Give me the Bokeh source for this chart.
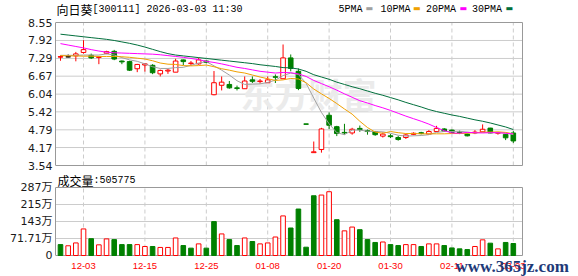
import numpy as np
from bokeh.plotting import figure
from bokeh.layouts import column
from bokeh.models import Range1d, FixedTicker, Label, ColumnDataSource
from bokeh.embed import file_html
from bokeh.resources import INLINE

# ---------------- data ----------------
dates = ["11-28", "12-01", "12-02", "12-03", "12-04", "12-05", "12-08", "12-09", "12-10", "12-11",
         "12-12", "12-15", "12-16", "12-17", "12-18", "12-19", "12-22", "12-23", "12-24", "12-25",
         "12-26", "12-29", "12-30", "12-31", "01-05", "01-06", "01-07", "01-08", "01-09", "01-12",
         "01-13", "01-14", "01-15", "01-16", "01-19", "01-20", "01-21", "01-22", "01-23", "01-26",
         "01-27", "01-28", "01-29", "01-30", "02-02", "02-03", "02-04", "02-05", "02-06", "02-09",
         "02-10", "02-11", "02-12", "02-13", "02-24", "02-25", "02-26", "02-27", "03-02", "03-03"]

open_ = [7.34, 7.35, 7.38, 7.50, 7.40, 7.33, 7.47, 7.54, 7.20, 7.18,
         6.93, 7.06, 7.05, 6.75, 6.85, 6.81, 7.24, 7.11, 7.10, 7.20,
         6.02, 6.35, 6.38, 6.26, 6.23, 6.54, 6.48, 6.44, 6.65, 6.58,
         7.31, 6.84, 4.99, 3.99, 4.10, 5.30, 4.90, 4.70, 4.68, 4.84,
         4.76, 4.73, 4.57, 4.58, 4.52, 4.52, 4.63, 4.69, 4.64, 4.73,
         4.82, 4.78, 4.71, 4.64, 4.68, 4.72, 4.85, 4.67, 4.63, 4.68]
high = [7.40, 7.43, 7.52, 7.93, 7.46, 7.35, 7.56, 7.59, 7.22, 7.21,
        7.10, 7.13, 7.09, 6.90, 6.92, 7.28, 7.25, 7.20, 7.32, 7.22,
        6.85, 6.66, 6.50, 6.34, 6.66, 6.66, 6.57, 6.66, 6.73, 7.78,
        7.43, 6.94, 4.99, 4.38, 4.86, 5.40, 4.93, 5.00, 4.86, 4.94,
        4.80, 4.75, 4.70, 4.64, 4.58, 4.64, 4.70, 4.72, 4.78, 4.93,
        4.85, 4.80, 4.76, 4.66, 4.78, 4.98, 4.86, 4.70, 4.64, 4.75]
low = [7.21, 7.33, 7.19, 7.46, 7.27, 7.09, 7.44, 7.23, 7.09, 6.85,
       6.81, 6.83, 6.74, 6.66, 6.75, 6.81, 7.05, 7.05, 7.07, 7.12,
       6.00, 6.17, 6.23, 6.17, 6.23, 6.43, 6.41, 6.43, 6.43, 6.58,
       6.84, 6.18, 4.99, 3.99, 3.99, 4.82, 4.57, 4.62, 4.62, 4.72,
       4.62, 4.58, 4.52, 4.50, 4.41, 4.47, 4.60, 4.63, 4.63, 4.72,
       4.72, 4.68, 4.64, 4.56, 4.64, 4.72, 4.67, 4.62, 4.43, 4.33]
close = [7.35, 7.35, 7.45, 7.60, 7.31, 7.34, 7.53, 7.27, 7.17, 6.88,
         7.08, 7.10, 6.79, 6.87, 6.88, 7.20, 7.18, 7.13, 7.24, 7.15,
         6.44, 6.46, 6.26, 6.24, 6.50, 6.49, 6.50, 6.54, 6.63, 7.31,
         6.94, 6.24, 4.99, 4.02, 4.82, 4.95, 4.66, 4.68, 4.81, 4.80,
         4.73, 4.62, 4.64, 4.55, 4.45, 4.61, 4.67, 4.66, 4.73, 4.84,
         4.74, 4.70, 4.69, 4.58, 4.71, 4.81, 4.68, 4.69, 4.51, 4.40]
prev_close_before = 7.38

# volume in 万
volume = [46, 41, 53, 112, 71, 45, 70, 67, 46, 46,
          46, 38, 38, 34, 34, 74, 42, 31, 49, 31,
          143, 91, 67, 42, 74, 59, 49, 53, 78, 167,
          116, 196, 35, 252, 255, 269, 151, 104, 120, 109,
          67, 55, 57, 46, 42, 46, 46, 38, 49, 49,
          42, 32, 28, 25, 38, 66, 52, 28, 55, 50.5775]

ma5 = [7.40, 7.40, 7.40, 7.41, 7.41, 7.41, 7.45, 7.41, 7.32, 7.24,
       7.19, 7.10, 7.00, 6.94, 6.94, 6.97, 6.98, 7.05, 7.13, 7.18,
       7.03, 6.88, 6.71, 6.51, 6.38, 6.39, 6.40, 6.45, 6.53, 6.69,
       6.78, 6.73, 6.42, 5.90, 5.40, 5.00, 4.69, 4.62, 4.78, 4.78,
       4.74, 4.73, 4.72, 4.67, 4.60, 4.57, 4.58, 4.59, 4.62, 4.70,
       4.73, 4.73, 4.74, 4.71, 4.68, 4.70, 4.69, 4.69, 4.68, 4.62]
ma10 = [7.39, 7.38, 7.38, 7.37, 7.37, 7.36, 7.36, 7.36, 7.35, 7.33,
        7.30, 7.27, 7.21, 7.13, 7.09, 7.08, 7.04, 7.03, 7.04, 7.06,
        7.00, 6.93, 6.88, 6.82, 6.78, 6.71, 6.64, 6.58, 6.52, 6.54,
        6.59, 6.57, 6.44, 6.22, 6.05, 5.89, 5.71, 5.52, 5.34, 5.09,
        4.87, 4.71, 4.67, 4.73, 4.69, 4.66, 4.66, 4.65, 4.65, 4.65,
        4.65, 4.66, 4.66, 4.67, 4.69, 4.71, 4.71, 4.72, 4.70, 4.65]
ma20 = [7.81, 7.76, 7.71, 7.66, 7.60, 7.55, 7.51, 7.49, 7.48, 7.47,
        7.46, 7.45, 7.44, 7.42, 7.39, 7.36, 7.33, 7.29, 7.25, 7.19,
        7.15, 7.10, 7.04, 6.98, 6.94, 6.89, 6.84, 6.81, 6.78, 6.80,
        6.79, 6.75, 6.66, 6.52, 6.41, 6.30, 6.18, 6.05, 5.93, 5.81,
        5.73, 5.64, 5.56, 5.47, 5.37, 5.27, 5.18, 5.09, 4.99, 4.87,
        4.76, 4.68, 4.67, 4.70, 4.69, 4.68, 4.69, 4.69, 4.67, 4.65]
ma30 = [8.14, 8.11, 8.08, 8.05, 8.02, 7.99, 7.96, 7.92, 7.87, 7.82,
        7.76, 7.69, 7.61, 7.53, 7.46, 7.41, 7.38, 7.35, 7.32, 7.29,
        7.26, 7.23, 7.20, 7.17, 7.14, 7.11, 7.07, 7.04, 7.01, 6.97,
        6.96, 6.92, 6.84, 6.72, 6.64, 6.56, 6.46, 6.38, 6.30, 6.23,
        6.15, 6.07, 6.00, 5.92, 5.84, 5.75, 5.67, 5.59, 5.50, 5.43,
        5.37, 5.31, 5.26, 5.20, 5.14, 5.09, 5.03, 4.96, 4.89, 4.80]

price_ticks = [3.54, 4.17, 4.79, 5.42, 6.04, 6.67, 7.29, 7.92, 8.55]
vol_ticks = [0, 71.71, 143.42, 215.13, 286.84]
vol_tick_labels = ["0", "71.71万", "143万", "215万", "287万"]
label_dates = ["12-03", "12-15", "12-25", "01-08", "01-20", "01-30", "02-11", "03-03"]

stock_name = "向日葵"
stock_info = "[300111] 2026-03-03 11:30"
ma_names = ["5PMA", "10PMA", "20PMA", "30PMA"]
vol_title = "成交量"

# ---------------- styling / geometry ----------------
RED = "#ff0000"
GREEN = "#008000"
BLACK = "#000000"
MA_COLORS = ["#a0a0a0", "#f0a000", "#ff00ff", "#006f3c"]
GRID = "#cccccc"
FRAME = "#999999"
LABEL_FONT = "DejaVu Sans, Noto Sans CJK SC"
MONO = "Liberation Mono, Noto Sans CJK SC"

W = 578
P_H = 171                      # price strip height (canvas rows 0..170)
V_H = 276 - P_H                # volume strip height
LEFT = 55                      # width of the y-axis gutter
PX_PER_BAR = 7.675
P_LO, P_HI = price_ticks[0], price_ticks[-1]
K = 143 / (P_HI - P_LO)        # px per price unit (8.55 at row 22, 3.54 at row 165)
V_LO, V_HI = vol_ticks[0], vol_ticks[-1]
S = (V_HI - V_LO) / 68         # volume units per px (287万 at row 187, 0 at row 255)

n = len(close)
idx = np.arange(n)
o = np.array(open_); h = np.array(high); l = np.array(low); c = np.array(close)
prev = np.concatenate([[prev_close_before], c[:-1]])

candle_col = []
for oi, ci, pi in zip(o, c, prev):
    if ci > oi:
        candle_col.append(RED)
    elif ci < oi:
        candle_col.append(GREEN)
    elif ci > pi:
        candle_col.append(RED)
    elif ci < pi:
        candle_col.append(GREEN)
    else:
        candle_col.append(BLACK)
candle_fill = ["white" if col == RED else col for col in candle_col]
vol_col = [RED if ci >= pi else GREEN for ci, pi in zip(c, prev)]
vol_fill = ["white" if col == RED else col for col in vol_col]

src = ColumnDataSource(dict(
    x=idx, o=o, h=h, l=l, c=c,
    top=np.maximum(o, c), bottom=np.minimum(o, c),
    col=candle_col, fill=candle_fill,
    vol=volume, vcol=vol_col, vfill=vol_fill,
))
doji = [i for i in range(n) if abs(o[i] - c[i]) < 0.015]
dsrc = ColumnDataSource(dict(x0=[i - 0.3 for i in doji], x1=[i + 0.3 for i in doji],
                             y=[c[i] for i in doji], col=[candle_col[i] for i in doji]))

tick_idx = [dates.index(d) for d in label_dates]

x_start = -0.65
x_range = Range1d(x_start, x_start + (W - LEFT) / PX_PER_BAR)
x_edge = x_start + 467 / PX_PER_BAR          # right border of the panels (canvas col 522)


def add_text(fig, x, y, text, font, size, color, style="normal", baseline="middle",
             align="left", x_units="screen", level="annotation"):
    fig.add_layout(Label(x=x, y=y, x_units=x_units, y_units="screen", text=text,
                         text_font=font, text_font_size=size, text_color=color,
                         text_font_style=style, text_baseline=baseline, text_align=align,
                         level=level))


def style_yaxis(ax, bounds):
    ax.bounds = bounds
    ax.axis_line_color = FRAME
    ax.major_tick_line_color = None
    ax.minor_tick_line_color = None
    ax.major_tick_out = 0
    ax.major_label_text_font = LABEL_FONT
    ax.major_label_text_font_size = "11px"
    ax.major_label_text_color = "#1a1a1a"
    ax.major_label_standoff = 3


def panel_frame(fig, ticks, lo, hi):
    inner = ticks[1:-1]
    fig.segment(x0=[x_start] * len(inner), y0=inner, x1=[x_edge] * len(inner), y1=inner,
                line_color=GRID, line_width=1, level="underlay")
    fig.segment(x0=tick_idx, y0=[lo] * len(tick_idx), x1=tick_idx, y1=[hi] * len(tick_idx),
                line_color=GRID, line_dash="4 3", line_width=1, level="underlay")
    fig.segment(x0=[x_start, x_start, x_edge], y0=[hi, lo, lo],
                x1=[x_edge, x_edge, x_edge], y1=[hi, lo, hi],
                line_color=FRAME, line_width=1)


def strip(height, y_range):
    f = figure(width=W, height=height, x_range=x_range, y_range=y_range,
               output_backend="svg", toolbar_location=None, x_axis_location=None,
               min_border_left=LEFT, min_border_right=0, min_border_top=0, min_border_bottom=0)
    f.background_fill_color = "white"
    f.border_fill_color = "white"
    f.outline_line_color = None
    f.xgrid.visible = False
    f.ygrid.visible = False
    return f


# ---------------- price panel ----------------
p = strip(P_H, Range1d(P_LO - (P_H - 165) / K, P_HI + 22 / K))
p.yaxis.ticker = FixedTicker(ticks=price_ticks)
p.yaxis.major_label_overrides = {t: f"{t:.2f}" for t in price_ticks}
style_yaxis(p.yaxis[0], (P_LO, P_HI))

add_text(p, 185, 78, "东方财富", "Noto Sans CJK SC", "34px", "#ebebeb", style="bold",
         level="underlay")
panel_frame(p, price_ticks, P_LO, P_HI)

p.segment(x0="x", y0="l", x1="x", y1="h", color="col", line_width=1, source=src)
p.vbar(x="x", top="top", bottom="bottom", width=0.6, fill_color="fill",
       line_color="col", line_width=1, source=src)
p.segment(x0="x0", y0="y", x1="x1", y1="y", color="col", line_width=1, source=dsrc)

for ma, col in zip([ma5, ma10, ma20, ma30], MA_COLORS):
    p.line(idx, ma, line_color=col, line_width=1)

TITLE_Y = P_H - 8.7
add_text(p, 1, TITLE_Y, stock_name, "Noto Sans CJK SC", "12px", "#000000")
add_text(p, 37, TITLE_Y, stock_info, MONO, "10px", "#000000")
leg_text_x = [283, 325, 370.5, 416.5]
leg_mark_x = [310, 357.5, 404, 450]
for name, col, tx, mx in zip(ma_names, MA_COLORS, leg_text_x, leg_mark_x):
    add_text(p, tx, TITLE_Y, name, MONO, "10px", "#000000")
    add_text(p, mx, TITLE_Y + 0.5, "▬", "DejaVu Sans", "8px", col)

# ---------------- volume panel ----------------
v = strip(V_H, Range1d(V_LO - 21 * S, V_HI + (187 - P_H) * S))
v.yaxis.ticker = FixedTicker(ticks=vol_ticks)
v.yaxis.major_label_overrides = dict(zip(vol_ticks, vol_tick_labels))
style_yaxis(v.yaxis[0], (V_LO, V_HI))
panel_frame(v, vol_ticks, V_LO, V_HI)

v.vbar(x="x", top="vol", bottom=0, width=0.6, fill_color="vfill", line_color="vcol",
       line_width=1, source=src)

for i in tick_idx:
    add_text(v, i, 10.2, dates[i], "Liberation Sans", "9.5px", RED, align="center", x_units="data")

add_text(v, 2, 276 - 179.5, vol_title, "Noto Sans CJK SC", "12px", "#000000")
add_text(v, 38, 276 - 179.5, ":" + str(int(round(volume[-1] * 10000))), MONO, "10px", "#000000")
add_text(v, 400, 10, "www.365jz.com", "Liberation Serif", "17px", "#1e3a78",
         style="bold", baseline="alphabetic")

layout = column(p, v, spacing=0)
open("out.html", "w").write(file_html(layout, INLINE))
